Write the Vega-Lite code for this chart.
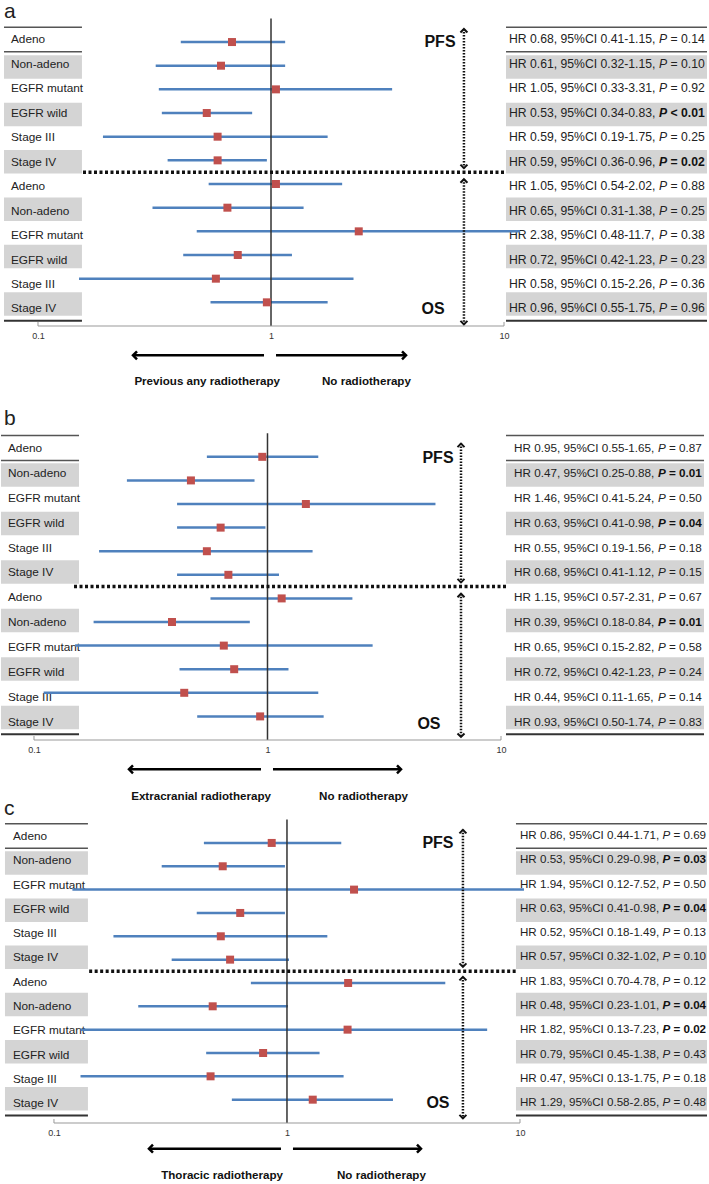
{
"$schema":"https://vega.github.io/schema/vega-lite/v6.json",
"padding":0,
"bounds":"flush",
"spacing":40,
"config":{"view":{"stroke":null},"font":"Liberation Sans"},
"datasets":{
"a":[
{"row":1,"label":"Adeno","hr":0.68,"lo":0.41,"hi":1.15,"stat":"HR 0.68, 95%CI 0.41-1.15,","p":"= 0.14","sig":false},
{"row":2,"label":"Non-adeno","hr":0.61,"lo":0.32,"hi":1.15,"stat":"HR 0.61, 95%CI 0.32-1.15,","p":"= 0.10","sig":false},
{"row":3,"label":"EGFR mutant","hr":1.05,"lo":0.33,"hi":3.31,"stat":"HR 1.05, 95%CI 0.33-3.31,","p":"= 0.92","sig":false},
{"row":4,"label":"EGFR wild","hr":0.53,"lo":0.34,"hi":0.83,"stat":"HR 0.53, 95%CI 0.34-0.83,","p":"< 0.01","sig":true},
{"row":5,"label":"Stage III","hr":0.59,"lo":0.19,"hi":1.75,"stat":"HR 0.59, 95%CI 0.19-1.75,","p":"= 0.25","sig":false},
{"row":6,"label":"Stage IV","hr":0.59,"lo":0.36,"hi":0.96,"stat":"HR 0.59, 95%CI 0.36-0.96,","p":"= 0.02","sig":true},
{"row":7,"label":"Adeno","hr":1.05,"lo":0.54,"hi":2.02,"stat":"HR 1.05, 95%CI 0.54-2.02,","p":"= 0.88","sig":false},
{"row":8,"label":"Non-adeno","hr":0.65,"lo":0.31,"hi":1.38,"stat":"HR 0.65, 95%CI 0.31-1.38,","p":"= 0.25","sig":false},
{"row":9,"label":"EGFR mutant","hr":2.38,"lo":0.48,"hi":11.7,"stat":"HR 2.38, 95%CI 0.48-11.7,","p":"= 0.38","sig":false},
{"row":10,"label":"EGFR wild","hr":0.72,"lo":0.42,"hi":1.23,"stat":"HR 0.72, 95%CI 0.42-1.23,","p":"= 0.23","sig":false},
{"row":11,"label":"Stage III","hr":0.58,"lo":0.15,"hi":2.26,"stat":"HR 0.58, 95%CI 0.15-2.26,","p":"= 0.36","sig":false},
{"row":12,"label":"Stage IV","hr":0.96,"lo":0.55,"hi":1.75,"stat":"HR 0.96, 95%CI 0.55-1.75,","p":"= 0.96","sig":false}
],
"b":[
{"row":1,"label":"Adeno","hr":0.95,"lo":0.55,"hi":1.65,"stat":"HR 0.95, 95%CI 0.55-1.65,","p":"= 0.87","sig":false},
{"row":2,"label":"Non-adeno","hr":0.47,"lo":0.25,"hi":0.88,"stat":"HR 0.47, 95%CI 0.25-0.88,","p":"= 0.01","sig":true},
{"row":3,"label":"EGFR mutant","hr":1.46,"lo":0.41,"hi":5.24,"stat":"HR 1.46, 95%CI 0.41-5.24,","p":"= 0.50","sig":false},
{"row":4,"label":"EGFR wild","hr":0.63,"lo":0.41,"hi":0.98,"stat":"HR 0.63, 95%CI 0.41-0.98,","p":"= 0.04","sig":true},
{"row":5,"label":"Stage III","hr":0.55,"lo":0.19,"hi":1.56,"stat":"HR 0.55, 95%CI 0.19-1.56,","p":"= 0.18","sig":false},
{"row":6,"label":"Stage IV","hr":0.68,"lo":0.41,"hi":1.12,"stat":"HR 0.68, 95%CI 0.41-1.12,","p":"= 0.15","sig":false},
{"row":7,"label":"Adeno","hr":1.15,"lo":0.57,"hi":2.31,"stat":"HR 1.15, 95%CI 0.57-2.31,","p":"= 0.67","sig":false},
{"row":8,"label":"Non-adeno","hr":0.39,"lo":0.18,"hi":0.84,"stat":"HR 0.39, 95%CI 0.18-0.84,","p":"= 0.01","sig":true},
{"row":9,"label":"EGFR mutant","hr":0.65,"lo":0.15,"hi":2.82,"stat":"HR 0.65, 95%CI 0.15-2.82,","p":"= 0.58","sig":false},
{"row":10,"label":"EGFR wild","hr":0.72,"lo":0.42,"hi":1.23,"stat":"HR 0.72, 95%CI 0.42-1.23,","p":"= 0.24","sig":false},
{"row":11,"label":"Stage III","hr":0.44,"lo":0.11,"hi":1.65,"stat":"HR 0.44, 95%CI 0.11-1.65,","p":"= 0.14","sig":false},
{"row":12,"label":"Stage IV","hr":0.93,"lo":0.50,"hi":1.74,"stat":"HR 0.93, 95%CI 0.50-1.74,","p":"= 0.83","sig":false}
],
"c":[
{"row":1,"label":"Adeno","hr":0.86,"lo":0.44,"hi":1.71,"stat":"HR 0.86, 95%CI 0.44-1.71,","p":"= 0.69","sig":false},
{"row":2,"label":"Non-adeno","hr":0.53,"lo":0.29,"hi":0.98,"stat":"HR 0.53, 95%CI 0.29-0.98,","p":"= 0.03","sig":true},
{"row":3,"label":"EGFR mutant","hr":1.94,"lo":0.12,"hi":10.4,"stat":"HR 1.94, 95%CI 0.12-7.52,","p":"= 0.50","sig":false},
{"row":4,"label":"EGFR wild","hr":0.63,"lo":0.41,"hi":0.98,"stat":"HR 0.63, 95%CI 0.41-0.98,","p":"= 0.04","sig":true},
{"row":5,"label":"Stage III","hr":0.52,"lo":0.18,"hi":1.49,"stat":"HR 0.52, 95%CI 0.18-1.49,","p":"= 0.13","sig":false},
{"row":6,"label":"Stage IV","hr":0.57,"lo":0.32,"hi":1.02,"stat":"HR 0.57, 95%CI 0.32-1.02,","p":"= 0.10","sig":false},
{"row":7,"label":"Adeno","hr":1.83,"lo":0.70,"hi":4.78,"stat":"HR 1.83, 95%CI 0.70-4.78,","p":"= 0.12","sig":false},
{"row":8,"label":"Non-adeno","hr":0.48,"lo":0.23,"hi":1.01,"stat":"HR 0.48, 95%CI 0.23-1.01,","p":"= 0.04","sig":true},
{"row":9,"label":"EGFR mutant","hr":1.82,"lo":0.13,"hi":7.23,"stat":"HR 1.82, 95%CI 0.13-7.23,","p":"= 0.02","sig":true},
{"row":10,"label":"EGFR wild","hr":0.79,"lo":0.45,"hi":1.38,"stat":"HR 0.79, 95%CI 0.45-1.38,","p":"= 0.43","sig":false},
{"row":11,"label":"Stage III","hr":0.47,"lo":0.13,"hi":1.75,"stat":"HR 0.47, 95%CI 0.13-1.75,","p":"= 0.18","sig":false},
{"row":12,"label":"Stage IV","hr":1.29,"lo":0.58,"hi":2.85,"stat":"HR 1.29, 95%CI 0.58-2.85,","p":"= 0.48","sig":false}
]
},
"vconcat":[
{
"width":709,"height":325,
"resolve":{"scale":{"y":"independent"}},
"layer":[
{"data":{"name":"a"},"transform":[{"filter":"datum.row % 2 == 0"}],"mark":{"type":"bar","orient":"horizontal","color":"#d4d4d4","size":23.5},"encoding":{"x":{"datum":0.07146,"type":"quantitative","scale":{"type":"log","domain":[0.069376,76.57],"nice":false}},"x2":{"datum":0.1544},"y":{"field":"row","type":"quantitative","scale":{"domain":[-0.5746,12.718],"reverse":true,"nice":false,"zero":false},"axis":null}}},
{"data":{"name":"a"},"transform":[{"filter":"datum.row % 2 == 0"}],"mark":{"type":"bar","orient":"horizontal","color":"#d4d4d4","size":23.5},"encoding":{"x":{"datum":10.2,"type":"quantitative","scale":{"type":"log","domain":[0.069376,76.57],"nice":false}},"x2":{"datum":74.33},"y":{"field":"row","type":"quantitative","scale":{"domain":[-0.5746,12.718],"reverse":true,"nice":false,"zero":false},"axis":null}}},
{"data":{"values":[{}]},"mark":{"type":"rule","color":"#555","strokeWidth":1.5},"encoding":{"x":{"datum":0.07146,"type":"quantitative","scale":{"type":"log","domain":[0.069376,76.57],"nice":false}},"x2":{"datum":0.1544},"y":{"datum":0.5,"type":"quantitative","scale":{"domain":[-0.5746,12.718],"reverse":true,"nice":false,"zero":false},"axis":null}}},
{"data":{"values":[{}]},"mark":{"type":"rule","color":"#555","strokeWidth":1.5},"encoding":{"x":{"datum":0.07146,"type":"quantitative","scale":{"type":"log","domain":[0.069376,76.57],"nice":false}},"x2":{"datum":0.1544},"y":{"datum":1.5,"type":"quantitative","scale":{"domain":[-0.5746,12.718],"reverse":true,"nice":false,"zero":false},"axis":null}}},
{"data":{"values":[{}]},"mark":{"type":"rule","color":"#333","strokeWidth":2},"encoding":{"x":{"datum":0.07146,"type":"quantitative","scale":{"type":"log","domain":[0.069376,76.57],"nice":false}},"x2":{"datum":0.1544},"y":{"datum":12.5,"type":"quantitative","scale":{"domain":[-0.5746,12.718],"reverse":true,"nice":false,"zero":false},"axis":null}}},
{"data":{"values":[{}]},"mark":{"type":"rule","color":"#555","strokeWidth":1.5},"encoding":{"x":{"datum":10.2,"type":"quantitative","scale":{"type":"log","domain":[0.069376,76.57],"nice":false}},"x2":{"datum":74.33},"y":{"datum":0.5,"type":"quantitative","scale":{"domain":[-0.5746,12.718],"reverse":true,"nice":false,"zero":false},"axis":null}}},
{"data":{"values":[{}]},"mark":{"type":"rule","color":"#555","strokeWidth":1.5},"encoding":{"x":{"datum":10.2,"type":"quantitative","scale":{"type":"log","domain":[0.069376,76.57],"nice":false}},"x2":{"datum":74.33},"y":{"datum":1.5,"type":"quantitative","scale":{"domain":[-0.5746,12.718],"reverse":true,"nice":false,"zero":false},"axis":null}}},
{"data":{"values":[{}]},"mark":{"type":"rule","color":"#333","strokeWidth":2},"encoding":{"x":{"datum":10.2,"type":"quantitative","scale":{"type":"log","domain":[0.069376,76.57],"nice":false}},"x2":{"datum":74.33},"y":{"datum":12.5,"type":"quantitative","scale":{"domain":[-0.5746,12.718],"reverse":true,"nice":false,"zero":false},"axis":null}}},
{"data":{"name":"a"},"mark":{"type":"text","align":"left","baseline":"middle","fontSize":11.8,"color":"#222"},"encoding":{"x":{"datum":0.07657,"type":"quantitative","scale":{"type":"log","domain":[0.069376,76.57],"nice":false}},"y":{"field":"row","type":"quantitative","scale":{"domain":[-0.5746,12.718],"reverse":true,"nice":false,"zero":false},"axis":null},"text":{"field":"label"}}},
{"data":{"name":"a"},"mark":{"type":"text","align":"left","baseline":"middle","fontSize":12.2,"color":"#222"},"encoding":{"x":{"datum":10.51,"type":"quantitative","scale":{"type":"log","domain":[0.069376,76.57],"nice":false}},"y":{"field":"row","type":"quantitative","scale":{"domain":[-0.5746,12.718],"reverse":true,"nice":false,"zero":false},"axis":null},"text":{"field":"stat"}}},
{"data":{"name":"a"},"transform":[{"filter":"!datum.sig"}],"mark":{"type":"text","align":"left","baseline":"middle","fontSize":12.2,"fontStyle":"italic","color":"#222"},"encoding":{"x":{"datum":46.26,"type":"quantitative","scale":{"type":"log","domain":[0.069376,76.57],"nice":false}},"y":{"field":"row","type":"quantitative","scale":{"domain":[-0.5746,12.718],"reverse":true,"nice":false,"zero":false},"axis":null},"text":{"value":"P"}}},
{"data":{"name":"a"},"transform":[{"filter":"datum.sig"}],"mark":{"type":"text","align":"left","baseline":"middle","fontSize":12.2,"fontStyle":"italic","fontWeight":"bold","color":"#111"},"encoding":{"x":{"datum":46.26,"type":"quantitative","scale":{"type":"log","domain":[0.069376,76.57],"nice":false}},"y":{"field":"row","type":"quantitative","scale":{"domain":[-0.5746,12.718],"reverse":true,"nice":false,"zero":false},"axis":null},"text":{"value":"P"}}},
{"data":{"name":"a"},"transform":[{"filter":"!datum.sig"}],"mark":{"type":"text","align":"left","baseline":"middle","fontSize":12.2,"dx":11.5,"color":"#222"},"encoding":{"x":{"datum":46.26,"type":"quantitative","scale":{"type":"log","domain":[0.069376,76.57],"nice":false}},"y":{"field":"row","type":"quantitative","scale":{"domain":[-0.5746,12.718],"reverse":true,"nice":false,"zero":false},"axis":null},"text":{"field":"p"}}},
{"data":{"name":"a"},"transform":[{"filter":"datum.sig"}],"mark":{"type":"text","align":"left","baseline":"middle","fontSize":12.2,"dx":11.5,"fontWeight":"bold","color":"#111"},"encoding":{"x":{"datum":46.26,"type":"quantitative","scale":{"type":"log","domain":[0.069376,76.57],"nice":false}},"y":{"field":"row","type":"quantitative","scale":{"domain":[-0.5746,12.718],"reverse":true,"nice":false,"zero":false},"axis":null},"text":{"field":"p"}}},
{"data":{"name":"a"},"mark":{"type":"rule","color":"#4f81bd","strokeWidth":2.5},"encoding":{"x":{"field":"lo","type":"quantitative","scale":{"type":"log","domain":[0.069376,76.57],"nice":false},"axis":{"orient":"bottom","values":[0.1,1,10],"format":"~g","domain":false,"ticks":false,"grid":false,"labelFontSize":9,"labelColor":"#333","labelPadding":5,"labelFlush":false,"labelOverlap":false,"title":null}},"x2":{"field":"hi"},"y":{"field":"row","type":"quantitative","scale":{"domain":[-0.7343,13],"reverse":true,"nice":false,"zero":false},"axis":null}}},
{"data":{"values":[{}]},"mark":{"type":"rule","color":"#333","strokeWidth":1.5},"encoding":{"x":{"datum":1,"type":"quantitative","scale":{"type":"log","domain":[0.069376,76.57],"nice":false}},"y":{"datum":0,"type":"quantitative","scale":{"domain":[-0.7343,13],"reverse":true,"nice":false,"zero":false},"axis":null},"y2":{"datum":13}}},
{"data":{"name":"a"},"mark":{"type":"point","shape":"square","filled":true,"color":"#c0504d","size":64,"opacity":1},"encoding":{"x":{"field":"hr","type":"quantitative","scale":{"type":"log","domain":[0.069376,76.57],"nice":false}},"y":{"field":"row","type":"quantitative","scale":{"domain":[-0.7343,13],"reverse":true,"nice":false,"zero":false},"axis":null}}},
{"data":{"values":[{}]},"mark":{"type":"rule","color":"#999","strokeWidth":1},"encoding":{"x":{"datum":0.1,"type":"quantitative","scale":{"type":"log","domain":[0.069376,76.57],"nice":false}},"x2":{"datum":10},"y":{"datum":13,"type":"quantitative","scale":{"domain":[-0.7343,13],"reverse":true,"nice":false,"zero":false},"axis":null}}},
{"data":{"values":[{"tick":0.1},{"tick":10}]},"mark":{"type":"rule","color":"#999","strokeWidth":1},"encoding":{"x":{"field":"tick","type":"quantitative","scale":{"type":"log","domain":[0.069376,76.57],"nice":false}},"y":{"datum":12.83,"type":"quantitative","scale":{"domain":[-0.7343,13],"reverse":true,"nice":false,"zero":false},"axis":null},"y2":{"datum":13}}},
{"data":{"values":[{}]},"mark":{"type":"rule","color":"#111","strokeWidth":3.5,"strokeDash":[3,2.5]},"encoding":{"x":{"datum":0.156,"type":"quantitative","scale":{"type":"log","domain":[0.069376,76.57],"nice":false}},"x2":{"datum":10.2},"y":{"datum":6.5,"type":"quantitative","scale":{"domain":[-0.7343,13],"reverse":true,"nice":false,"zero":false},"axis":null}}},
{"data":{"values":[{}]},"mark":{"type":"rule","color":"#111","strokeWidth":2.5,"strokeDash":[1.5,1.5]},"encoding":{"x":{"datum":6.73,"type":"quantitative","scale":{"type":"log","domain":[0.069376,76.57],"nice":false}},"y":{"datum":0.45,"type":"quantitative","scale":{"domain":[-0.7343,13],"reverse":true,"nice":false,"zero":false},"axis":null},"y2":{"datum":6.33}}},
{"data":{"values":[{}]},"mark":{"type":"rule","color":"#111","strokeWidth":2.5,"strokeDash":[1.5,1.5]},"encoding":{"x":{"datum":6.73,"type":"quantitative","scale":{"type":"log","domain":[0.069376,76.57],"nice":false}},"y":{"datum":6.8,"type":"quantitative","scale":{"domain":[-0.7343,13],"reverse":true,"nice":false,"zero":false},"axis":null},"y2":{"datum":12.93}}},
{"data":{"values":[{}]},"mark":{"type":"point","shape":"M -1 1 L 0 0 L 1 1","filled":false,"color":"#111","strokeWidth":2,"size":49,"opacity":1},"encoding":{"x":{"datum":6.73,"type":"quantitative","scale":{"type":"log","domain":[0.069376,76.57],"nice":false}},"y":{"datum":0.45,"type":"quantitative","scale":{"domain":[-0.7343,13],"reverse":true,"nice":false,"zero":false},"axis":null}}},
{"data":{"values":[{}]},"mark":{"type":"point","shape":"M -1 -1 L 0 0 L 1 -1","filled":false,"color":"#111","strokeWidth":2,"size":49,"opacity":1},"encoding":{"x":{"datum":6.73,"type":"quantitative","scale":{"type":"log","domain":[0.069376,76.57],"nice":false}},"y":{"datum":6.33,"type":"quantitative","scale":{"domain":[-0.7343,13],"reverse":true,"nice":false,"zero":false},"axis":null}}},
{"data":{"values":[{}]},"mark":{"type":"point","shape":"M -1 1 L 0 0 L 1 1","filled":false,"color":"#111","strokeWidth":2,"size":49,"opacity":1},"encoding":{"x":{"datum":6.73,"type":"quantitative","scale":{"type":"log","domain":[0.069376,76.57],"nice":false}},"y":{"datum":6.8,"type":"quantitative","scale":{"domain":[-0.7343,13],"reverse":true,"nice":false,"zero":false},"axis":null}}},
{"data":{"values":[{}]},"mark":{"type":"point","shape":"M -1 -1 L 0 0 L 1 -1","filled":false,"color":"#111","strokeWidth":2,"size":49,"opacity":1},"encoding":{"x":{"datum":6.73,"type":"quantitative","scale":{"type":"log","domain":[0.069376,76.57],"nice":false}},"y":{"datum":12.93,"type":"quantitative","scale":{"domain":[-0.7343,13],"reverse":true,"nice":false,"zero":false},"axis":null}}},
{"data":{"values":[{}]},"mark":{"type":"text","align":"center","baseline":"middle","fontSize":16,"fontWeight":"bold","color":"#111"},"encoding":{"x":{"datum":5.313,"type":"quantitative","scale":{"type":"log","domain":[0.069376,76.57],"nice":false}},"y":{"datum":1.0,"type":"quantitative","scale":{"domain":[-0.7343,13],"reverse":true,"nice":false,"zero":false},"axis":null},"text":{"value":"PFS"}}},
{"data":{"values":[{}]},"mark":{"type":"text","align":"center","baseline":"middle","fontSize":16,"fontWeight":"bold","color":"#111"},"encoding":{"x":{"datum":4.958,"type":"quantitative","scale":{"type":"log","domain":[0.069376,76.57],"nice":false}},"y":{"datum":12.3,"type":"quantitative","scale":{"domain":[-0.7343,13],"reverse":true,"nice":false,"zero":false},"axis":null},"text":{"value":"OS"}}},
{"data":{"values":[{}]},"mark":{"type":"text","align":"left","baseline":"middle","fontSize":21,"color":"#222"},"encoding":{"x":{"datum":0.07146,"type":"quantitative","scale":{"type":"log","domain":[0.069376,76.57],"nice":false}},"y":{"datum":-0.27,"type":"quantitative","scale":{"domain":[-0.7343,13],"reverse":true,"nice":false,"zero":false},"axis":null},"text":{"value":"a"}}},
{"data":{"values":[{}]},"mark":{"type":"rule","color":"#000","strokeWidth":2.5},"encoding":{"x":{"datum":0.2557,"type":"quantitative","scale":{"type":"log","domain":[0.069376,76.57],"nice":false}},"x2":{"datum":0.9332},"y":{"datum":14.24,"type":"quantitative","scale":{"domain":[-0.7343,13],"reverse":true,"nice":false,"zero":false},"axis":null}}},
{"data":{"values":[{}]},"mark":{"type":"rule","color":"#000","strokeWidth":2.5},"encoding":{"x":{"datum":1.0507,"type":"quantitative","scale":{"type":"log","domain":[0.069376,76.57],"nice":false}},"x2":{"datum":3.797},"y":{"datum":14.24,"type":"quantitative","scale":{"domain":[-0.7343,13],"reverse":true,"nice":false,"zero":false},"axis":null}}},
{"data":{"values":[{}]},"mark":{"type":"point","shape":"M 1 -1 L 0 0 L 1 1","filled":false,"color":"#000","strokeWidth":2.5,"size":64,"opacity":1},"encoding":{"x":{"datum":0.2557,"type":"quantitative","scale":{"type":"log","domain":[0.069376,76.57],"nice":false}},"y":{"datum":14.24,"type":"quantitative","scale":{"domain":[-0.7343,13],"reverse":true,"nice":false,"zero":false},"axis":null}}},
{"data":{"values":[{}]},"mark":{"type":"point","shape":"M -1 -1 L 0 0 L -1 1","filled":false,"color":"#000","strokeWidth":2.5,"size":64,"opacity":1},"encoding":{"x":{"datum":3.797,"type":"quantitative","scale":{"type":"log","domain":[0.069376,76.57],"nice":false}},"y":{"datum":14.24,"type":"quantitative","scale":{"domain":[-0.7343,13],"reverse":true,"nice":false,"zero":false},"axis":null}}},
{"data":{"values":[{}]},"mark":{"type":"text","align":"right","baseline":"middle","fontSize":11.6,"fontWeight":"bold","color":"#111"},"encoding":{"x":{"datum":1.093,"type":"quantitative","scale":{"type":"log","domain":[0.069376,76.57],"nice":false}},"y":{"datum":15.38,"type":"quantitative","scale":{"domain":[-0.7343,13],"reverse":true,"nice":false,"zero":false},"axis":null},"text":{"value":"Previous any radiotherapy"}}},
{"data":{"values":[{}]},"mark":{"type":"text","align":"left","baseline":"middle","fontSize":11.6,"fontWeight":"bold","color":"#111"},"encoding":{"x":{"datum":1.655,"type":"quantitative","scale":{"type":"log","domain":[0.069376,76.57],"nice":false}},"y":{"datum":15.38,"type":"quantitative","scale":{"domain":[-0.7343,13],"reverse":true,"nice":false,"zero":false},"axis":null},"text":{"value":"No radiotherapy"}}}
]
},
{
"width":709,"height":374,
"resolve":{"scale":{"y":"independent"}},
"layer":[
{"data":{"name":"b"},"transform":[{"filter":"datum.row % 2 == 0"}],"mark":{"type":"bar","orient":"horizontal","color":"#d4d4d4","size":23.5},"encoding":{"x":{"datum":0.072234,"type":"quantitative","scale":{"type":"log","domain":[0.072234,78.53],"nice":false}},"x2":{"datum":0.1559},"y":{"field":"row","type":"quantitative","scale":{"domain":[-2.293,12.727],"reverse":true,"nice":false,"zero":false},"axis":null}}},
{"data":{"name":"b"},"transform":[{"filter":"datum.row % 2 == 0"}],"mark":{"type":"bar","orient":"horizontal","color":"#d4d4d4","size":23.5},"encoding":{"x":{"datum":10.505,"type":"quantitative","scale":{"type":"log","domain":[0.072234,78.53],"nice":false}},"x2":{"datum":74.03},"y":{"field":"row","type":"quantitative","scale":{"domain":[-2.293,12.727],"reverse":true,"nice":false,"zero":false},"axis":null}}},
{"data":{"values":[{}]},"mark":{"type":"rule","color":"#555","strokeWidth":1.5},"encoding":{"x":{"datum":0.072234,"type":"quantitative","scale":{"type":"log","domain":[0.072234,78.53],"nice":false}},"x2":{"datum":0.1559},"y":{"datum":0.5,"type":"quantitative","scale":{"domain":[-2.293,12.727],"reverse":true,"nice":false,"zero":false},"axis":null}}},
{"data":{"values":[{}]},"mark":{"type":"rule","color":"#555","strokeWidth":1.5},"encoding":{"x":{"datum":0.072234,"type":"quantitative","scale":{"type":"log","domain":[0.072234,78.53],"nice":false}},"x2":{"datum":0.1559},"y":{"datum":1.5,"type":"quantitative","scale":{"domain":[-2.293,12.727],"reverse":true,"nice":false,"zero":false},"axis":null}}},
{"data":{"values":[{}]},"mark":{"type":"rule","color":"#333","strokeWidth":2},"encoding":{"x":{"datum":0.072234,"type":"quantitative","scale":{"type":"log","domain":[0.072234,78.53],"nice":false}},"x2":{"datum":0.1559},"y":{"datum":12.5,"type":"quantitative","scale":{"domain":[-2.293,12.727],"reverse":true,"nice":false,"zero":false},"axis":null}}},
{"data":{"values":[{}]},"mark":{"type":"rule","color":"#555","strokeWidth":1.5},"encoding":{"x":{"datum":10.505,"type":"quantitative","scale":{"type":"log","domain":[0.072234,78.53],"nice":false}},"x2":{"datum":74.03},"y":{"datum":0.5,"type":"quantitative","scale":{"domain":[-2.293,12.727],"reverse":true,"nice":false,"zero":false},"axis":null}}},
{"data":{"values":[{}]},"mark":{"type":"rule","color":"#555","strokeWidth":1.5},"encoding":{"x":{"datum":10.505,"type":"quantitative","scale":{"type":"log","domain":[0.072234,78.53],"nice":false}},"x2":{"datum":74.03},"y":{"datum":1.5,"type":"quantitative","scale":{"domain":[-2.293,12.727],"reverse":true,"nice":false,"zero":false},"axis":null}}},
{"data":{"values":[{}]},"mark":{"type":"rule","color":"#333","strokeWidth":2},"encoding":{"x":{"datum":10.505,"type":"quantitative","scale":{"type":"log","domain":[0.072234,78.53],"nice":false}},"x2":{"datum":74.03},"y":{"datum":12.5,"type":"quantitative","scale":{"domain":[-2.293,12.727],"reverse":true,"nice":false,"zero":false},"axis":null}}},
{"data":{"name":"b"},"mark":{"type":"text","align":"left","baseline":"middle","fontSize":11.8,"color":"#222"},"encoding":{"x":{"datum":0.07739,"type":"quantitative","scale":{"type":"log","domain":[0.072234,78.53],"nice":false}},"y":{"field":"row","type":"quantitative","scale":{"domain":[-2.293,12.727],"reverse":true,"nice":false,"zero":false},"axis":null},"text":{"field":"label"}}},
{"data":{"name":"b"},"mark":{"type":"text","align":"left","baseline":"middle","fontSize":11.7,"color":"#222"},"encoding":{"x":{"datum":11.37,"type":"quantitative","scale":{"type":"log","domain":[0.072234,78.53],"nice":false}},"y":{"field":"row","type":"quantitative","scale":{"domain":[-2.293,12.727],"reverse":true,"nice":false,"zero":false},"axis":null},"text":{"field":"stat"}}},
{"data":{"name":"b"},"transform":[{"filter":"!datum.sig"}],"mark":{"type":"text","align":"left","baseline":"middle","fontSize":11.7,"fontStyle":"italic","color":"#222"},"encoding":{"x":{"datum":47.03,"type":"quantitative","scale":{"type":"log","domain":[0.072234,78.53],"nice":false}},"y":{"field":"row","type":"quantitative","scale":{"domain":[-2.293,12.727],"reverse":true,"nice":false,"zero":false},"axis":null},"text":{"value":"P"}}},
{"data":{"name":"b"},"transform":[{"filter":"datum.sig"}],"mark":{"type":"text","align":"left","baseline":"middle","fontSize":11.7,"fontStyle":"italic","fontWeight":"bold","color":"#111"},"encoding":{"x":{"datum":47.03,"type":"quantitative","scale":{"type":"log","domain":[0.072234,78.53],"nice":false}},"y":{"field":"row","type":"quantitative","scale":{"domain":[-2.293,12.727],"reverse":true,"nice":false,"zero":false},"axis":null},"text":{"value":"P"}}},
{"data":{"name":"b"},"transform":[{"filter":"!datum.sig"}],"mark":{"type":"text","align":"left","baseline":"middle","fontSize":11.7,"dx":11,"color":"#222"},"encoding":{"x":{"datum":47.03,"type":"quantitative","scale":{"type":"log","domain":[0.072234,78.53],"nice":false}},"y":{"field":"row","type":"quantitative","scale":{"domain":[-2.293,12.727],"reverse":true,"nice":false,"zero":false},"axis":null},"text":{"field":"p"}}},
{"data":{"name":"b"},"transform":[{"filter":"datum.sig"}],"mark":{"type":"text","align":"left","baseline":"middle","fontSize":11.7,"dx":11,"fontWeight":"bold","color":"#111"},"encoding":{"x":{"datum":47.03,"type":"quantitative","scale":{"type":"log","domain":[0.072234,78.53],"nice":false}},"y":{"field":"row","type":"quantitative","scale":{"domain":[-2.293,12.727],"reverse":true,"nice":false,"zero":false},"axis":null},"text":{"field":"p"}}},
{"data":{"name":"b"},"mark":{"type":"rule","color":"#4f81bd","strokeWidth":2.5},"encoding":{"x":{"field":"lo","type":"quantitative","scale":{"type":"log","domain":[0.072234,78.53],"nice":false},"axis":{"orient":"bottom","values":[0.1,1,10],"format":"~g","domain":false,"ticks":false,"grid":false,"labelFontSize":9,"labelColor":"#333","labelPadding":5,"labelFlush":false,"labelOverlap":false,"title":null}},"x2":{"field":"hi"},"y":{"field":"row","type":"quantitative","scale":{"domain":[-2.849,13],"reverse":true,"nice":false,"zero":false},"axis":null}}},
{"data":{"values":[{}]},"mark":{"type":"rule","color":"#333","strokeWidth":1.5},"encoding":{"x":{"datum":1,"type":"quantitative","scale":{"type":"log","domain":[0.072234,78.53],"nice":false}},"y":{"datum":0,"type":"quantitative","scale":{"domain":[-2.849,13],"reverse":true,"nice":false,"zero":false},"axis":null},"y2":{"datum":13}}},
{"data":{"name":"b"},"mark":{"type":"point","shape":"square","filled":true,"color":"#c0504d","size":64,"opacity":1},"encoding":{"x":{"field":"hr","type":"quantitative","scale":{"type":"log","domain":[0.072234,78.53],"nice":false}},"y":{"field":"row","type":"quantitative","scale":{"domain":[-2.849,13],"reverse":true,"nice":false,"zero":false},"axis":null}}},
{"data":{"values":[{}]},"mark":{"type":"rule","color":"#999","strokeWidth":1},"encoding":{"x":{"datum":0.1,"type":"quantitative","scale":{"type":"log","domain":[0.072234,78.53],"nice":false}},"x2":{"datum":10},"y":{"datum":13,"type":"quantitative","scale":{"domain":[-2.849,13],"reverse":true,"nice":false,"zero":false},"axis":null}}},
{"data":{"values":[{"tick":0.1},{"tick":10}]},"mark":{"type":"rule","color":"#999","strokeWidth":1},"encoding":{"x":{"field":"tick","type":"quantitative","scale":{"type":"log","domain":[0.072234,78.53],"nice":false}},"y":{"datum":12.83,"type":"quantitative","scale":{"domain":[-2.849,13],"reverse":true,"nice":false,"zero":false},"axis":null},"y2":{"datum":13}}},
{"data":{"values":[{}]},"mark":{"type":"rule","color":"#111","strokeWidth":3.5,"strokeDash":[3,2.5]},"encoding":{"x":{"datum":0.1484,"type":"quantitative","scale":{"type":"log","domain":[0.072234,78.53],"nice":false}},"x2":{"datum":10.505},"y":{"datum":6.5,"type":"quantitative","scale":{"domain":[-2.849,13],"reverse":true,"nice":false,"zero":false},"axis":null}}},
{"data":{"values":[{}]},"mark":{"type":"rule","color":"#111","strokeWidth":2.5,"strokeDash":[1.5,1.5]},"encoding":{"x":{"datum":6.74,"type":"quantitative","scale":{"type":"log","domain":[0.072234,78.53],"nice":false}},"y":{"datum":0.44,"type":"quantitative","scale":{"domain":[-2.849,13],"reverse":true,"nice":false,"zero":false},"axis":null},"y2":{"datum":6.32}}},
{"data":{"values":[{}]},"mark":{"type":"rule","color":"#111","strokeWidth":2.5,"strokeDash":[1.5,1.5]},"encoding":{"x":{"datum":6.74,"type":"quantitative","scale":{"type":"log","domain":[0.072234,78.53],"nice":false}},"y":{"datum":6.8,"type":"quantitative","scale":{"domain":[-2.849,13],"reverse":true,"nice":false,"zero":false},"axis":null},"y2":{"datum":12.87}}},
{"data":{"values":[{}]},"mark":{"type":"point","shape":"M -1 1 L 0 0 L 1 1","filled":false,"color":"#111","strokeWidth":2,"size":49,"opacity":1},"encoding":{"x":{"datum":6.74,"type":"quantitative","scale":{"type":"log","domain":[0.072234,78.53],"nice":false}},"y":{"datum":0.44,"type":"quantitative","scale":{"domain":[-2.849,13],"reverse":true,"nice":false,"zero":false},"axis":null}}},
{"data":{"values":[{}]},"mark":{"type":"point","shape":"M -1 -1 L 0 0 L 1 -1","filled":false,"color":"#111","strokeWidth":2,"size":49,"opacity":1},"encoding":{"x":{"datum":6.74,"type":"quantitative","scale":{"type":"log","domain":[0.072234,78.53],"nice":false}},"y":{"datum":6.32,"type":"quantitative","scale":{"domain":[-2.849,13],"reverse":true,"nice":false,"zero":false},"axis":null}}},
{"data":{"values":[{}]},"mark":{"type":"point","shape":"M -1 1 L 0 0 L 1 1","filled":false,"color":"#111","strokeWidth":2,"size":49,"opacity":1},"encoding":{"x":{"datum":6.74,"type":"quantitative","scale":{"type":"log","domain":[0.072234,78.53],"nice":false}},"y":{"datum":6.8,"type":"quantitative","scale":{"domain":[-2.849,13],"reverse":true,"nice":false,"zero":false},"axis":null}}},
{"data":{"values":[{}]},"mark":{"type":"point","shape":"M -1 -1 L 0 0 L 1 -1","filled":false,"color":"#111","strokeWidth":2,"size":49,"opacity":1},"encoding":{"x":{"datum":6.74,"type":"quantitative","scale":{"type":"log","domain":[0.072234,78.53],"nice":false}},"y":{"datum":12.87,"type":"quantitative","scale":{"domain":[-2.849,13],"reverse":true,"nice":false,"zero":false},"axis":null}}},
{"data":{"values":[{}]},"mark":{"type":"text","align":"center","baseline":"middle","fontSize":16,"fontWeight":"bold","color":"#111"},"encoding":{"x":{"datum":5.373,"type":"quantitative","scale":{"type":"log","domain":[0.072234,78.53],"nice":false}},"y":{"datum":1.04,"type":"quantitative","scale":{"domain":[-2.849,13],"reverse":true,"nice":false,"zero":false},"axis":null},"text":{"value":"PFS"}}},
{"data":{"values":[{}]},"mark":{"type":"text","align":"center","baseline":"middle","fontSize":16,"fontWeight":"bold","color":"#111"},"encoding":{"x":{"datum":4.915,"type":"quantitative","scale":{"type":"log","domain":[0.072234,78.53],"nice":false}},"y":{"datum":12.34,"type":"quantitative","scale":{"domain":[-2.849,13],"reverse":true,"nice":false,"zero":false},"axis":null},"text":{"value":"OS"}}},
{"data":{"values":[{}]},"mark":{"type":"text","align":"left","baseline":"middle","fontSize":21,"color":"#222"},"encoding":{"x":{"datum":0.07439,"type":"quantitative","scale":{"type":"log","domain":[0.072234,78.53],"nice":false}},"y":{"datum":-0.607,"type":"quantitative","scale":{"domain":[-2.849,13],"reverse":true,"nice":false,"zero":false},"axis":null},"text":{"value":"b"}}},
{"data":{"values":[{}]},"mark":{"type":"rule","color":"#000","strokeWidth":2.5},"encoding":{"x":{"datum":0.2552,"type":"quantitative","scale":{"type":"log","domain":[0.072234,78.53],"nice":false}},"x2":{"datum":0.938},"y":{"datum":14.24,"type":"quantitative","scale":{"domain":[-2.849,13],"reverse":true,"nice":false,"zero":false},"axis":null}}},
{"data":{"values":[{}]},"mark":{"type":"rule","color":"#000","strokeWidth":2.5},"encoding":{"x":{"datum":1.0557,"type":"quantitative","scale":{"type":"log","domain":[0.072234,78.53],"nice":false}},"x2":{"datum":3.73},"y":{"datum":14.24,"type":"quantitative","scale":{"domain":[-2.849,13],"reverse":true,"nice":false,"zero":false},"axis":null}}},
{"data":{"values":[{}]},"mark":{"type":"point","shape":"M 1 -1 L 0 0 L 1 1","filled":false,"color":"#000","strokeWidth":2.5,"size":64,"opacity":1},"encoding":{"x":{"datum":0.2552,"type":"quantitative","scale":{"type":"log","domain":[0.072234,78.53],"nice":false}},"y":{"datum":14.24,"type":"quantitative","scale":{"domain":[-2.849,13],"reverse":true,"nice":false,"zero":false},"axis":null}}},
{"data":{"values":[{}]},"mark":{"type":"point","shape":"M -1 -1 L 0 0 L -1 1","filled":false,"color":"#000","strokeWidth":2.5,"size":64,"opacity":1},"encoding":{"x":{"datum":3.73,"type":"quantitative","scale":{"type":"log","domain":[0.072234,78.53],"nice":false}},"y":{"datum":14.24,"type":"quantitative","scale":{"domain":[-2.849,13],"reverse":true,"nice":false,"zero":false},"axis":null}}},
{"data":{"values":[{}]},"mark":{"type":"text","align":"right","baseline":"middle","fontSize":11.6,"fontWeight":"bold","color":"#111"},"encoding":{"x":{"datum":1.035,"type":"quantitative","scale":{"type":"log","domain":[0.072234,78.53],"nice":false}},"y":{"datum":15.42,"type":"quantitative","scale":{"domain":[-2.849,13],"reverse":true,"nice":false,"zero":false},"axis":null},"text":{"value":"Extracranial radiotherapy"}}},
{"data":{"values":[{}]},"mark":{"type":"text","align":"left","baseline":"middle","fontSize":11.6,"fontWeight":"bold","color":"#111"},"encoding":{"x":{"datum":1.662,"type":"quantitative","scale":{"type":"log","domain":[0.072234,78.53],"nice":false}},"y":{"datum":15.42,"type":"quantitative","scale":{"domain":[-2.849,13],"reverse":true,"nice":false,"zero":false},"axis":null},"text":{"value":"No radiotherapy"}}}
]
},
{
"width":709,"height":343,
"resolve":{"scale":{"y":"independent"}},
"layer":[
{"data":{"name":"c"},"transform":[{"filter":"datum.row % 2 == 0"}],"mark":{"type":"bar","orient":"horizontal","color":"#d4d4d4","size":23.5},"encoding":{"x":{"datum":0.06163,"type":"quantitative","scale":{"type":"log","domain":[0.059253,65.38],"nice":false}},"x2":{"datum":0.1399},"y":{"field":"row","type":"quantitative","scale":{"domain":[-1.3045,12.811],"reverse":true,"nice":false,"zero":false},"axis":null}}},
{"data":{"name":"c"},"transform":[{"filter":"datum.row % 2 == 0"}],"mark":{"type":"bar","orient":"horizontal","color":"#d4d4d4","size":23.5},"encoding":{"x":{"datum":9.61,"type":"quantitative","scale":{"type":"log","domain":[0.059253,65.38],"nice":false}},"x2":{"datum":63.47},"y":{"field":"row","type":"quantitative","scale":{"domain":[-1.3045,12.811],"reverse":true,"nice":false,"zero":false},"axis":null}}},
{"data":{"values":[{}]},"mark":{"type":"rule","color":"#555","strokeWidth":1.5},"encoding":{"x":{"datum":0.06163,"type":"quantitative","scale":{"type":"log","domain":[0.059253,65.38],"nice":false}},"x2":{"datum":0.1399},"y":{"datum":0.5,"type":"quantitative","scale":{"domain":[-1.3045,12.811],"reverse":true,"nice":false,"zero":false},"axis":null}}},
{"data":{"values":[{}]},"mark":{"type":"rule","color":"#555","strokeWidth":1.5},"encoding":{"x":{"datum":0.06163,"type":"quantitative","scale":{"type":"log","domain":[0.059253,65.38],"nice":false}},"x2":{"datum":0.1399},"y":{"datum":1.5,"type":"quantitative","scale":{"domain":[-1.3045,12.811],"reverse":true,"nice":false,"zero":false},"axis":null}}},
{"data":{"values":[{}]},"mark":{"type":"rule","color":"#333","strokeWidth":2},"encoding":{"x":{"datum":0.06163,"type":"quantitative","scale":{"type":"log","domain":[0.059253,65.38],"nice":false}},"x2":{"datum":0.1399},"y":{"datum":12.5,"type":"quantitative","scale":{"domain":[-1.3045,12.811],"reverse":true,"nice":false,"zero":false},"axis":null}}},
{"data":{"values":[{}]},"mark":{"type":"rule","color":"#555","strokeWidth":1.5},"encoding":{"x":{"datum":9.61,"type":"quantitative","scale":{"type":"log","domain":[0.059253,65.38],"nice":false}},"x2":{"datum":63.47},"y":{"datum":0.5,"type":"quantitative","scale":{"domain":[-1.3045,12.811],"reverse":true,"nice":false,"zero":false},"axis":null}}},
{"data":{"values":[{}]},"mark":{"type":"rule","color":"#555","strokeWidth":1.5},"encoding":{"x":{"datum":9.61,"type":"quantitative","scale":{"type":"log","domain":[0.059253,65.38],"nice":false}},"x2":{"datum":63.47},"y":{"datum":1.5,"type":"quantitative","scale":{"domain":[-1.3045,12.811],"reverse":true,"nice":false,"zero":false},"axis":null}}},
{"data":{"values":[{}]},"mark":{"type":"rule","color":"#333","strokeWidth":2},"encoding":{"x":{"datum":9.61,"type":"quantitative","scale":{"type":"log","domain":[0.059253,65.38],"nice":false}},"x2":{"datum":63.47},"y":{"datum":12.5,"type":"quantitative","scale":{"domain":[-1.3045,12.811],"reverse":true,"nice":false,"zero":false},"axis":null}}},
{"data":{"name":"c"},"mark":{"type":"text","align":"left","baseline":"middle","fontSize":11.8,"color":"#222"},"encoding":{"x":{"datum":0.06668,"type":"quantitative","scale":{"type":"log","domain":[0.059253,65.38],"nice":false}},"y":{"field":"row","type":"quantitative","scale":{"domain":[-1.3045,12.811],"reverse":true,"nice":false,"zero":false},"axis":null},"text":{"field":"label"}}},
{"data":{"name":"c"},"mark":{"type":"text","align":"left","baseline":"middle","fontSize":11.6,"color":"#222"},"encoding":{"x":{"datum":10.0,"type":"quantitative","scale":{"type":"log","domain":[0.059253,65.38],"nice":false}},"y":{"field":"row","type":"quantitative","scale":{"domain":[-1.3045,12.811],"reverse":true,"nice":false,"zero":false},"axis":null},"text":{"field":"stat"}}},
{"data":{"name":"c"},"transform":[{"filter":"!datum.sig"}],"mark":{"type":"text","align":"left","baseline":"middle","fontSize":11.6,"fontStyle":"italic","color":"#222"},"encoding":{"x":{"datum":40.88,"type":"quantitative","scale":{"type":"log","domain":[0.059253,65.38],"nice":false}},"y":{"field":"row","type":"quantitative","scale":{"domain":[-1.3045,12.811],"reverse":true,"nice":false,"zero":false},"axis":null},"text":{"value":"P"}}},
{"data":{"name":"c"},"transform":[{"filter":"datum.sig"}],"mark":{"type":"text","align":"left","baseline":"middle","fontSize":11.6,"fontStyle":"italic","fontWeight":"bold","color":"#111"},"encoding":{"x":{"datum":40.88,"type":"quantitative","scale":{"type":"log","domain":[0.059253,65.38],"nice":false}},"y":{"field":"row","type":"quantitative","scale":{"domain":[-1.3045,12.811],"reverse":true,"nice":false,"zero":false},"axis":null},"text":{"value":"P"}}},
{"data":{"name":"c"},"transform":[{"filter":"!datum.sig"}],"mark":{"type":"text","align":"left","baseline":"middle","fontSize":11.6,"dx":11,"color":"#222"},"encoding":{"x":{"datum":40.88,"type":"quantitative","scale":{"type":"log","domain":[0.059253,65.38],"nice":false}},"y":{"field":"row","type":"quantitative","scale":{"domain":[-1.3045,12.811],"reverse":true,"nice":false,"zero":false},"axis":null},"text":{"field":"p"}}},
{"data":{"name":"c"},"transform":[{"filter":"datum.sig"}],"mark":{"type":"text","align":"left","baseline":"middle","fontSize":11.6,"dx":11,"fontWeight":"bold","color":"#111"},"encoding":{"x":{"datum":40.88,"type":"quantitative","scale":{"type":"log","domain":[0.059253,65.38],"nice":false}},"y":{"field":"row","type":"quantitative","scale":{"domain":[-1.3045,12.811],"reverse":true,"nice":false,"zero":false},"axis":null},"text":{"field":"p"}}},
{"data":{"name":"c"},"mark":{"type":"rule","color":"#4f81bd","strokeWidth":2.5},"encoding":{"x":{"field":"lo","type":"quantitative","scale":{"type":"log","domain":[0.059253,65.38],"nice":false},"axis":{"orient":"bottom","values":[0.1,1,10],"format":"~g","domain":false,"ticks":false,"grid":false,"labelFontSize":9,"labelColor":"#333","labelPadding":5,"labelFlush":false,"labelOverlap":false,"title":null}},"x2":{"field":"hi"},"y":{"field":"row","type":"quantitative","scale":{"domain":[-1.697,13],"reverse":true,"nice":false,"zero":false},"axis":null}}},
{"data":{"values":[{}]},"mark":{"type":"rule","color":"#333","strokeWidth":1.5},"encoding":{"x":{"datum":1,"type":"quantitative","scale":{"type":"log","domain":[0.059253,65.38],"nice":false}},"y":{"datum":0,"type":"quantitative","scale":{"domain":[-1.697,13],"reverse":true,"nice":false,"zero":false},"axis":null},"y2":{"datum":13}}},
{"data":{"name":"c"},"mark":{"type":"point","shape":"square","filled":true,"color":"#c0504d","size":64,"opacity":1},"encoding":{"x":{"field":"hr","type":"quantitative","scale":{"type":"log","domain":[0.059253,65.38],"nice":false}},"y":{"field":"row","type":"quantitative","scale":{"domain":[-1.697,13],"reverse":true,"nice":false,"zero":false},"axis":null}}},
{"data":{"values":[{}]},"mark":{"type":"rule","color":"#999","strokeWidth":1},"encoding":{"x":{"datum":0.1,"type":"quantitative","scale":{"type":"log","domain":[0.059253,65.38],"nice":false}},"x2":{"datum":10},"y":{"datum":13,"type":"quantitative","scale":{"domain":[-1.697,13],"reverse":true,"nice":false,"zero":false},"axis":null}}},
{"data":{"values":[{"tick":0.1},{"tick":10}]},"mark":{"type":"rule","color":"#999","strokeWidth":1},"encoding":{"x":{"field":"tick","type":"quantitative","scale":{"type":"log","domain":[0.059253,65.38],"nice":false}},"y":{"datum":12.83,"type":"quantitative","scale":{"domain":[-1.697,13],"reverse":true,"nice":false,"zero":false},"axis":null},"y2":{"datum":13}}},
{"data":{"values":[{}]},"mark":{"type":"rule","color":"#111","strokeWidth":3.5,"strokeDash":[3,2.5]},"encoding":{"x":{"datum":0.1416,"type":"quantitative","scale":{"type":"log","domain":[0.059253,65.38],"nice":false}},"x2":{"datum":9.61},"y":{"datum":6.5,"type":"quantitative","scale":{"domain":[-1.697,13],"reverse":true,"nice":false,"zero":false},"axis":null}}},
{"data":{"values":[{}]},"mark":{"type":"rule","color":"#111","strokeWidth":2.5,"strokeDash":[1.5,1.5]},"encoding":{"x":{"datum":5.69,"type":"quantitative","scale":{"type":"log","domain":[0.059253,65.38],"nice":false}},"y":{"datum":0.44,"type":"quantitative","scale":{"domain":[-1.697,13],"reverse":true,"nice":false,"zero":false},"axis":null},"y2":{"datum":6.31}}},
{"data":{"values":[{}]},"mark":{"type":"rule","color":"#111","strokeWidth":2.5,"strokeDash":[1.5,1.5]},"encoding":{"x":{"datum":5.69,"type":"quantitative","scale":{"type":"log","domain":[0.059253,65.38],"nice":false}},"y":{"datum":6.74,"type":"quantitative","scale":{"domain":[-1.697,13],"reverse":true,"nice":false,"zero":false},"axis":null},"y2":{"datum":12.8}}},
{"data":{"values":[{}]},"mark":{"type":"point","shape":"M -1 1 L 0 0 L 1 1","filled":false,"color":"#111","strokeWidth":2,"size":49,"opacity":1},"encoding":{"x":{"datum":5.69,"type":"quantitative","scale":{"type":"log","domain":[0.059253,65.38],"nice":false}},"y":{"datum":0.44,"type":"quantitative","scale":{"domain":[-1.697,13],"reverse":true,"nice":false,"zero":false},"axis":null}}},
{"data":{"values":[{}]},"mark":{"type":"point","shape":"M -1 -1 L 0 0 L 1 -1","filled":false,"color":"#111","strokeWidth":2,"size":49,"opacity":1},"encoding":{"x":{"datum":5.69,"type":"quantitative","scale":{"type":"log","domain":[0.059253,65.38],"nice":false}},"y":{"datum":6.31,"type":"quantitative","scale":{"domain":[-1.697,13],"reverse":true,"nice":false,"zero":false},"axis":null}}},
{"data":{"values":[{}]},"mark":{"type":"point","shape":"M -1 1 L 0 0 L 1 1","filled":false,"color":"#111","strokeWidth":2,"size":49,"opacity":1},"encoding":{"x":{"datum":5.69,"type":"quantitative","scale":{"type":"log","domain":[0.059253,65.38],"nice":false}},"y":{"datum":6.74,"type":"quantitative","scale":{"domain":[-1.697,13],"reverse":true,"nice":false,"zero":false},"axis":null}}},
{"data":{"values":[{}]},"mark":{"type":"point","shape":"M -1 -1 L 0 0 L 1 -1","filled":false,"color":"#111","strokeWidth":2,"size":49,"opacity":1},"encoding":{"x":{"datum":5.69,"type":"quantitative","scale":{"type":"log","domain":[0.059253,65.38],"nice":false}},"y":{"datum":12.8,"type":"quantitative","scale":{"domain":[-1.697,13],"reverse":true,"nice":false,"zero":false},"axis":null}}},
{"data":{"values":[{}]},"mark":{"type":"text","align":"center","baseline":"middle","fontSize":16,"fontWeight":"bold","color":"#111"},"encoding":{"x":{"datum":4.447,"type":"quantitative","scale":{"type":"log","domain":[0.059253,65.38],"nice":false}},"y":{"datum":1.0,"type":"quantitative","scale":{"domain":[-1.697,13],"reverse":true,"nice":false,"zero":false},"axis":null},"text":{"value":"PFS"}}},
{"data":{"values":[{}]},"mark":{"type":"text","align":"center","baseline":"middle","fontSize":16,"fontWeight":"bold","color":"#111"},"encoding":{"x":{"datum":4.447,"type":"quantitative","scale":{"type":"log","domain":[0.059253,65.38],"nice":false}},"y":{"datum":12.13,"type":"quantitative","scale":{"domain":[-1.697,13],"reverse":true,"nice":false,"zero":false},"axis":null},"text":{"value":"OS"}}},
{"data":{"values":[{}]},"mark":{"type":"text","align":"left","baseline":"middle","fontSize":21,"color":"#222"},"encoding":{"x":{"datum":0.061,"type":"quantitative","scale":{"type":"log","domain":[0.059253,65.38],"nice":false}},"y":{"datum":-0.455,"type":"quantitative","scale":{"domain":[-1.697,13],"reverse":true,"nice":false,"zero":false},"axis":null},"text":{"value":"c"}}},
{"data":{"values":[{}]},"mark":{"type":"rule","color":"#000","strokeWidth":2.5},"encoding":{"x":{"datum":0.2557,"type":"quantitative","scale":{"type":"log","domain":[0.059253,65.38],"nice":false}},"x2":{"datum":0.9424},"y":{"datum":14.1,"type":"quantitative","scale":{"domain":[-1.697,13],"reverse":true,"nice":false,"zero":false},"axis":null}}},
{"data":{"values":[{}]},"mark":{"type":"rule","color":"#000","strokeWidth":2.5},"encoding":{"x":{"datum":1.061,"type":"quantitative","scale":{"type":"log","domain":[0.059253,65.38],"nice":false}},"x2":{"datum":3.759},"y":{"datum":14.1,"type":"quantitative","scale":{"domain":[-1.697,13],"reverse":true,"nice":false,"zero":false},"axis":null}}},
{"data":{"values":[{}]},"mark":{"type":"point","shape":"M 1 -1 L 0 0 L 1 1","filled":false,"color":"#000","strokeWidth":2.5,"size":64,"opacity":1},"encoding":{"x":{"datum":0.2557,"type":"quantitative","scale":{"type":"log","domain":[0.059253,65.38],"nice":false}},"y":{"datum":14.1,"type":"quantitative","scale":{"domain":[-1.697,13],"reverse":true,"nice":false,"zero":false},"axis":null}}},
{"data":{"values":[{}]},"mark":{"type":"point","shape":"M -1 -1 L 0 0 L -1 1","filled":false,"color":"#000","strokeWidth":2.5,"size":64,"opacity":1},"encoding":{"x":{"datum":3.759,"type":"quantitative","scale":{"type":"log","domain":[0.059253,65.38],"nice":false}},"y":{"datum":14.1,"type":"quantitative","scale":{"domain":[-1.697,13],"reverse":true,"nice":false,"zero":false},"axis":null}}},
{"data":{"values":[{}]},"mark":{"type":"text","align":"right","baseline":"middle","fontSize":11.6,"fontWeight":"bold","color":"#111"},"encoding":{"x":{"datum":0.961,"type":"quantitative","scale":{"type":"log","domain":[0.059253,65.38],"nice":false}},"y":{"datum":15.26,"type":"quantitative","scale":{"domain":[-1.697,13],"reverse":true,"nice":false,"zero":false},"axis":null},"text":{"value":"Thoracic radiotherapy"}}},
{"data":{"values":[{}]},"mark":{"type":"text","align":"left","baseline":"middle","fontSize":11.6,"fontWeight":"bold","color":"#111"},"encoding":{"x":{"datum":1.639,"type":"quantitative","scale":{"type":"log","domain":[0.059253,65.38],"nice":false}},"y":{"datum":15.26,"type":"quantitative","scale":{"domain":[-1.697,13],"reverse":true,"nice":false,"zero":false},"axis":null},"text":{"value":"No radiotherapy"}}}
]
}
]
}
